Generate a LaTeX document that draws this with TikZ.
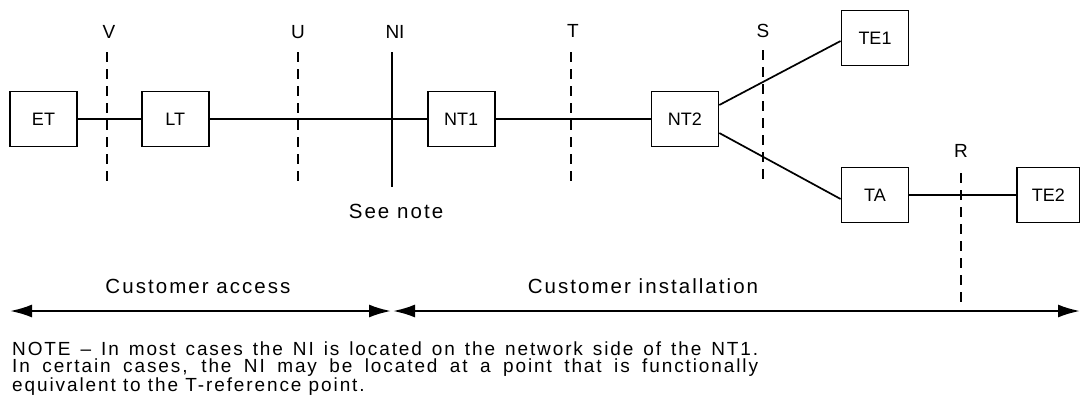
\documentclass[tikz,border=0pt]{standalone}
\usepackage{fontspec}
\setmainfont{Liberation Sans}
\newfontfamily\spacedfont[LetterSpace=10]{Liberation Sans}
\usetikzlibrary{arrows.meta,positioning}

\begin{document}
\begin{tikzpicture}[
  x=1pt, y=-1pt,
  node distance=63pt,
  box/.style={draw, line width=1.8pt, minimum width=67pt, minimum height=55pt, inner sep=0pt, font=\fontsize{18}{20}\selectfont},
  refpt/.style={font=\fontsize{19}{21}\selectfont, inner sep=0pt, anchor=base},
  link/.style={line width=1.7pt},
  cut/.style={line width=1.7pt, dash pattern=on 10pt off 7pt},
  span/.style={arrows={Latex[length=22pt,width=13pt]-Latex[length=22pt,width=13pt]}, line width=2.2pt},
  tag/.style={font=\spacedfont\fontsize{20.5}{22}\selectfont, inner sep=0pt, anchor=base},
  notetext/.style={font=\spacedfont\fontsize{19}{17}\selectfont, inner sep=0pt, align=left, anchor=north west}
]
\useasboundingbox (0,0) rectangle (1080,408);

\node[box] (et) at (43.5,119) {ET};
\node[box, right=63pt of et] (lt) {LT};
\node[box, right=217pt of lt] (nt1) {NT1};
\node[box, right=155pt of nt1] (nt2) {NT2};
\node[box] (te1) at (875,38) {TE1};
\node[box] (ta) at (875,195) {TA};
\node[box, minimum width=63pt, right=106.5pt of ta] (te2) {TE2};

\node[refpt] (lblv) at (109,38) {V};
\node[refpt] (lblu) at (298,38) {U};
\node[refpt] (lblni) at (395,38) {NI};
\node[refpt] (lblt) at (573,37) {T};
\node[refpt] (lbls) at (763,37) {S};
\node[refpt] (lblr) at (961,157) {R};

\coordinate (v1) at (107,52);
\coordinate (v2) at (107,184);
\coordinate (u1) at (298,52);
\coordinate (u2) at (298,184);
\coordinate (ni1) at (392,52);
\coordinate (ni2) at (392,187);
\coordinate (t1) at (571,52);
\coordinate (t2) at (571,184);
\coordinate (s1) at (763,50);
\coordinate (s2) at (763,183);
\coordinate (r1) at (961,173);
\coordinate (r2) at (961,305);

\draw[link] (et) -- (lt);
\draw[link] (lt) -- (nt1);
\draw[link] (nt1) -- (nt2);
\draw[link] ([yshift=14pt]nt2.east) -- ([yshift=-3pt]te1.west);
\draw[link] ([yshift=-14pt]nt2.east) -- ([yshift=-4pt]ta.west);
\draw[link] (ta) -- (te2);

\draw[cut] (v1) -- (v2);
\draw[cut] (u1) -- (u2);
\draw[link] (ni1) -- (ni2);
\draw[cut] (t1) -- (t2);
\draw[cut] (s1) -- (s2);
\draw[cut] (r1) -- (r2);

\node[tag] (seenote) at (396,218) {See note};

\coordinate (a0) at (10,311);
\coordinate (a1) at (391,311);
\coordinate (a2) at (393,311);
\coordinate (a3) at (1080,311);
\draw[span] (a0) -- (a1);
\draw[span] (a2) -- (a3);
\node[tag] (access) at (198,293) {Customer access};
\node[tag] (install) at (643,293) {Customer installation};

\node[notetext] (note) at (12,342) {\makebox[746pt][s]{NOTE – In most cases the NI is located on the network side of the NT1.}\\
  \makebox[746pt][s]{In certain cases, the NI may be located at a point that is functionally}\\
  equivalent to the T-reference point.};
\end{tikzpicture}
\end{document}
